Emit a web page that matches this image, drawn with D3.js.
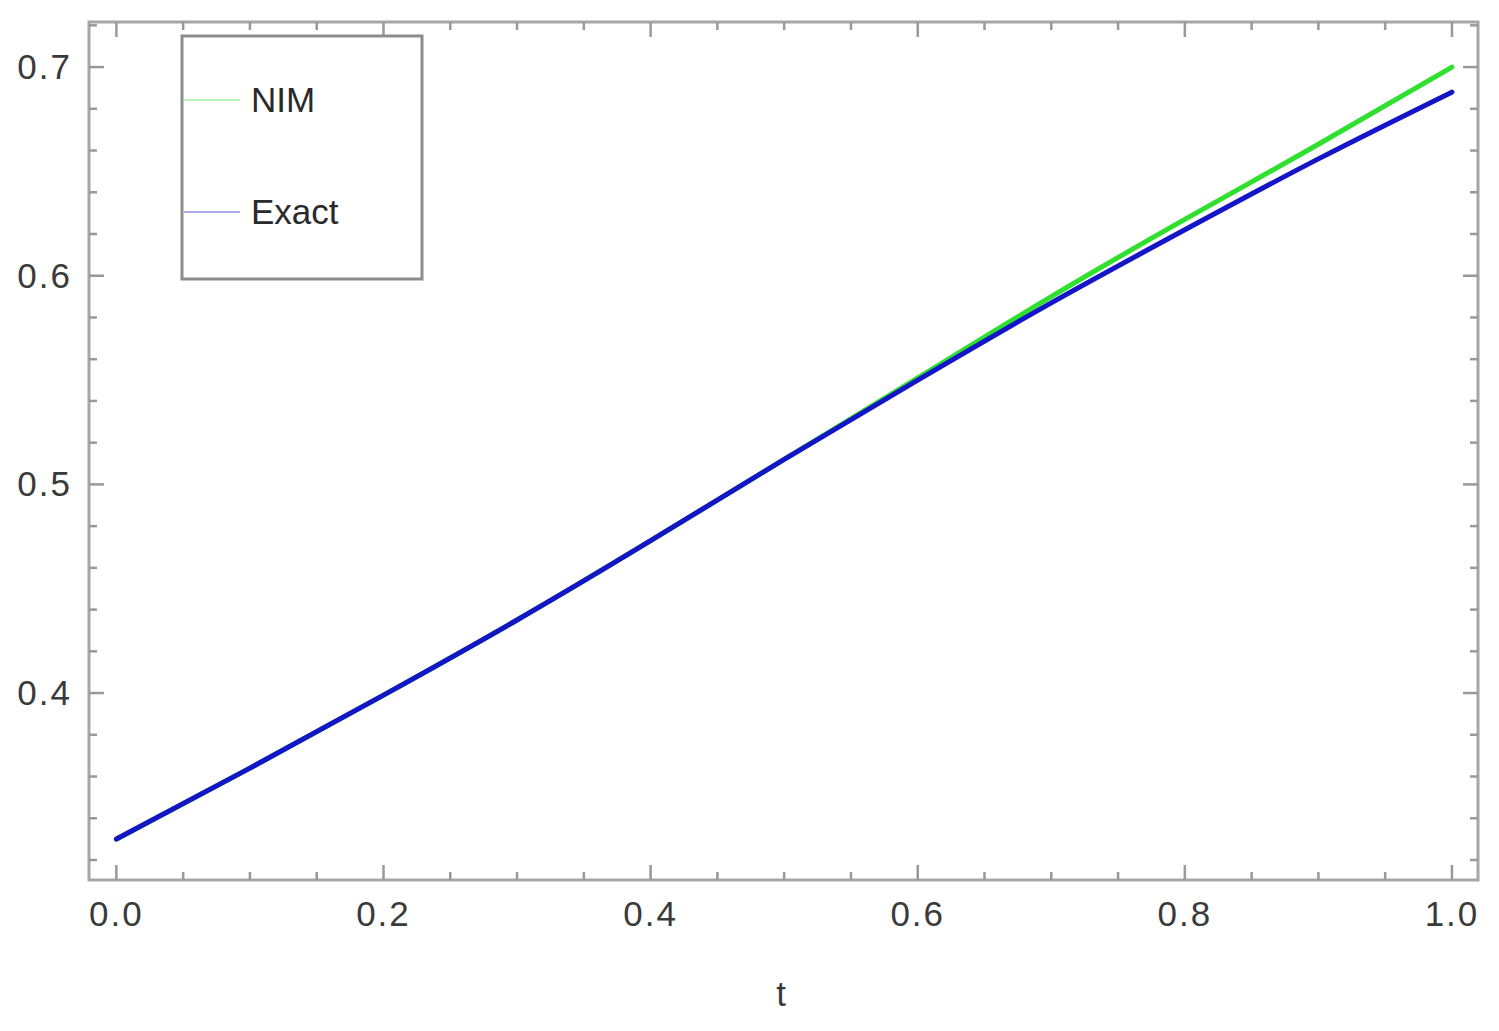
<!DOCTYPE html>
<html>
<head>
<meta charset="utf-8">
<script src="https://d3js.org/d3.v7.min.js"></script>
<style>
  body { margin: 0; background: #fff; }
  text { font-family: "Liberation Sans", Arial, sans-serif; }
</style>
</head>
<body>
<div id="chart"></div>
<script>
// values
var tValues = [0.0, 0.1, 0.2, 0.3, 0.4, 0.5, 0.6, 0.7, 0.8, 0.9, 1.0];
var exactValues = [0.330, 0.364, 0.399, 0.435, 0.473, 0.512, 0.550, 0.587, 0.622, 0.656, 0.688];
var nimValues = [0.330, 0.364, 0.399, 0.435, 0.473, 0.512, 0.551, 0.590, 0.627, 0.663, 0.700];
var xTickLabels = ["0.0", "0.2", "0.4", "0.6", "0.8", "1.0"];
var yTickLabels = ["0.4", "0.5", "0.6", "0.7"];
var seriesNames = ["NIM", "Exact"];
var seriesColors = ["#2fe02f", "#1515c8"];

var width = 1499, height = 1031;
var frame = { left: 89, right: 1478, top: 22, bottom: 880 };

var svg = d3.select("#chart")
    .append("svg")
    .attr("width", width)
    .attr("height", height);

var xScale = d3.scaleLinear()
    .domain([-0.0205, 1.0195])
    .range([frame.left, frame.right]);

var yScale = d3.scaleLinear()
    .domain([0.3104, 0.7216])
    .range([frame.bottom, frame.top]);

// frame
svg.append("rect")
    .attr("x", frame.left)
    .attr("y", frame.top)
    .attr("width", frame.right - frame.left)
    .attr("height", frame.bottom - frame.top)
    .attr("fill", "none")
    .attr("stroke", "#a6a6a6")
    .attr("stroke-width", 3);

// ticks on all four sides, pointing inward
var xMinor = d3.range(0, 1.0001, 0.05);
var yMinor = d3.range(0.32, 0.7201, 0.02);
function isMajor(v, step) {
    return Math.abs(v / step - Math.round(v / step)) < 1e-6;
}

var tickGroup = svg.append("g")
    .attr("stroke", "#999")
    .attr("stroke-width", 2.5);

xMinor.forEach(function(v) {
    var len = isMajor(v, 0.2) ? 15 : 8;
    var x = xScale(v);
    tickGroup.append("line").attr("x1", x).attr("x2", x)
        .attr("y1", frame.bottom).attr("y2", frame.bottom - len);
    tickGroup.append("line").attr("x1", x).attr("x2", x)
        .attr("y1", frame.top).attr("y2", frame.top + len);
});

yMinor.forEach(function(v) {
    var len = isMajor(v, 0.1) ? 15 : 8;
    var y = yScale(v);
    tickGroup.append("line").attr("x1", frame.left).attr("x2", frame.left + len)
        .attr("y1", y).attr("y2", y);
    tickGroup.append("line").attr("x1", frame.right).attr("x2", frame.right - len)
        .attr("y1", y).attr("y2", y);
});

// tick labels
svg.selectAll(".x-label")
    .data(xTickLabels)
    .enter().append("text")
    .attr("class", "x-label")
    .attr("x", function(d) { return xScale(+d); })
    .attr("y", 926)
    .attr("text-anchor", "middle")
    .attr("font-size", 35)
    .attr("letter-spacing", 2)
    .attr("fill", "#3a3a3a")
    .text(function(d) { return d; });

svg.selectAll(".y-label")
    .data(yTickLabels)
    .enter().append("text")
    .attr("class", "y-label")
    .attr("x", 72)
    .attr("y", function(d) { return yScale(+d) + 12; })
    .attr("text-anchor", "end")
    .attr("font-size", 35)
    .attr("letter-spacing", 2)
    .attr("fill", "#3a3a3a")
    .text(function(d) { return d; });

svg.append("text")
    .attr("x", 781)
    .attr("y", 1006)
    .attr("text-anchor", "middle")
    .attr("font-size", 35)
    .attr("fill", "#3a3a3a")
    .text("t");

// curves
var series = [nimValues, exactValues];
var line = d3.line()
    .x(function(d, i) { return xScale(tValues[i]); })
    .y(function(d) { return yScale(d); })
    .curve(d3.curveNatural);

svg.selectAll(".curve")
    .data(series)
    .enter().append("path")
    .attr("class", "curve")
    .attr("d", line)
    .attr("fill", "none")
    .attr("stroke", function(d, i) { return seriesColors[i]; })
    .attr("stroke-width", 5)
    .attr("stroke-linecap", "round");

// legend
var legend = svg.append("g");
legend.append("rect")
    .attr("x", 182)
    .attr("y", 36)
    .attr("width", 240)
    .attr("height", 243)
    .attr("fill", "#fff")
    .attr("stroke", "#8c8c8c")
    .attr("stroke-width", 3);

var legendItems = legend.selectAll(".legend-item")
    .data(seriesNames)
    .enter().append("g")
    .attr("class", "legend-item")
    .attr("transform", function(d, i) { return "translate(0," + (100 + i * 112) + ")"; });

legendItems.append("line")
    .attr("x1", 184)
    .attr("x2", 240)
    .attr("y1", 0)
    .attr("y2", 0)
    .attr("stroke", function(d, i) { return seriesColors[i]; })
    .attr("stroke-opacity", 0.35)
    .attr("stroke-width", 2);

legendItems.append("text")
    .attr("x", 251)
    .attr("y", 12)
    .attr("font-size", 35)
    .attr("fill", "#2a2a2a")
    .text(function(d) { return d; });
</script>
</body>
</html>
